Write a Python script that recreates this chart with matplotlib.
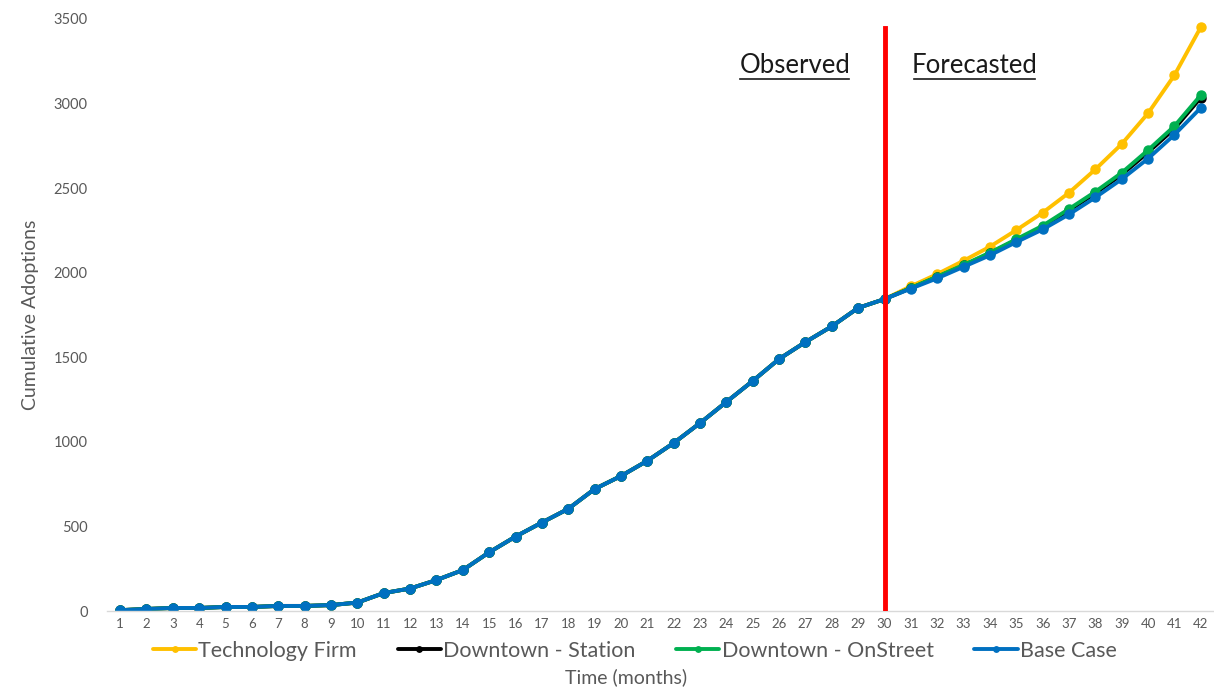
import matplotlib
matplotlib.use("Agg")
import matplotlib.pyplot as plt
import numpy as np

months = list(range(1, 43))
observed = [5, 12, 18, 18, 24, 24, 30, 30, 35, 50, 106, 133, 183, 242, 347, 440,
            523, 604, 721, 798, 888, 993, 1111, 1236, 1360, 1490, 1590, 1683, 1792, 1844]
fc_tech = [1920, 1992, 2071, 2154, 2252, 2355, 2473, 2611, 2761, 2943, 3168, 3452]
fc_station = [1909, 1975, 2043, 2115, 2193, 2272, 2369, 2470, 2580, 2712, 2852, 3035]
fc_onstreet = [1910, 1977, 2046, 2119, 2198, 2278, 2377, 2479, 2591, 2725, 2867, 3050]
fc_base = [1906, 1967, 2035, 2103, 2181, 2256, 2345, 2445, 2553, 2675, 2816, 2975]

series_names = ["Technology Firm", "Downtown - Station", "Downtown - OnStreet", "Base Case"]
series_fc = [fc_tech, fc_station, fc_onstreet, fc_base]
colors = ["#FFC000", "#000000", "#00B050", "#0070C0"]
yticks = [0, 500, 1000, 1500, 2000, 2500, 3000, 3500]

font = ["Lato", "DejaVu Sans"]
plt.rcParams['font.family'] = font
grey = "#595959"

fig = plt.figure(figsize=(12.14, 6.88), dpi=100)
ax = fig.add_axes([0.0881, 0.1119, 0.9119, 0.8605])

for name, fc, col in zip(series_names, series_fc, colors):
    vals = observed + fc
    ax.plot(months, vals, color=col, lw=2.8, marker='o', ms=6.5, label=name,
            solid_capstyle='round')

ax.axvline(30, ymin=0, ymax=0.985, color="#FF0000", lw=3.5, zorder=5)

ax.set_xlim(0.5, 42.5)
ax.set_ylim(0, 3500)
ax.set_xticks(months)
ax.set_xticklabels([str(m) for m in months], fontsize=9.5, color=grey)
ax.set_yticks(yticks)
ax.set_yticklabels([str(v) for v in yticks], fontsize=10.5, color=grey)
ax.tick_params(length=0)
ax.tick_params(axis='y', pad=14)
ax.tick_params(axis='x', pad=5)
for s in ['top', 'right', 'left']:
    ax.spines[s].set_visible(False)
ax.spines['bottom'].set_color("#D9D9D9")
ax.spines['bottom'].set_linewidth(1)

ax.set_ylabel("Cumulative Adoptions", fontsize=14, color=grey, labelpad=10)
fig.text(0.516, 0.002, "Time (months)", fontsize=14, color=grey, ha='center', va='bottom')

ax.text(26.6, 3225, "Observed", fontsize=18.5, color="#1a1a1a", ha='center', va='center')
ax.text(33.4, 3225, "Forecasted", fontsize=18.5, color="#1a1a1a", ha='center', va='center')
ax.plot([24.5, 28.65], [3145, 3145], color="#1a1a1a", lw=1.2)
ax.plot([31.1, 35.7], [3145, 3145], color="#1a1a1a", lw=1.2)

leg = fig.legend(loc='center', bbox_to_anchor=(0.523, 0.054), ncol=4, frameon=False,
                 fontsize=15.5, handlelength=2.0, handletextpad=0.1, columnspacing=1.9,
                 markerscale=0.6)
for t in leg.get_texts():
    t.set_color(grey)

fig.savefig("out.png", dpi=100)
